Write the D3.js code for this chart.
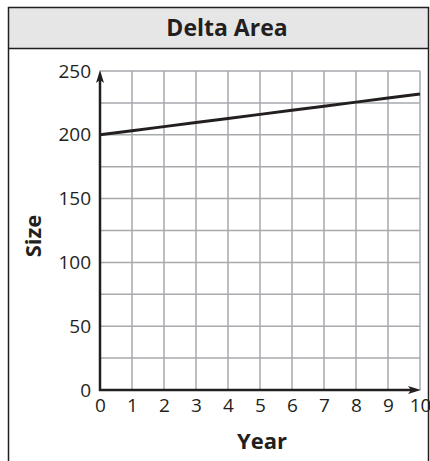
<!DOCTYPE html>
<html><head><meta charset="utf-8">
<script src="https://cdn.jsdelivr.net/npm/d3@7"></script>
<style>body{margin:0;background:#fff}svg{display:block;font-family:"Open Sans",sans-serif}</style>
</head><body>
<script>
const title = "Delta Area";
const xLabel = "Year";
const yLabel = "Size";
const years = [0,1,2,3,4,5,6,7,8,9,10];
const sizes = [200,203.2,206.4,209.6,212.8,216,219.2,222.4,225.6,228.8,232];
const xTicks = [0,1,2,3,4,5,6,7,8,9,10];
const yTicks = [0,50,100,150,200,250];
const yGrid = [25,50,75,100,125,150,175,200,225,250];

const W=430,H=461;
const svg=d3.select("body").append("svg").attr("width",W).attr("height",H);

// frame
svg.append("rect").attr("x",8.5).attr("y",7.5).attr("width",420).attr("height",41).attr("fill","#e6e6e7").attr("stroke","none");
svg.append("path").attr("d","M8.5,470V7.5H428.5V470").attr("fill","none").attr("stroke","#231f20").attr("stroke-width",1.5);
svg.append("line").attr("x1",8.5).attr("x2",428.5).attr("y1",48.5).attr("y2",48.5).attr("stroke","#231f20").attr("stroke-width",1.5);
svg.append("text").attr("x",227).attr("y",36).attr("text-anchor","middle").attr("font-size",23).attr("font-weight","bold").attr("fill","#231f20").text(title);

const x=d3.scaleLinear().domain([0,10]).range([100,420]);
const y=d3.scaleLinear().domain([0,250]).range([390,71]);

const g=svg.append("g");
// grid
g.selectAll(".vg").data(xTicks.slice(1)).join("line")
 .attr("x1",d=>x(d)).attr("x2",d=>x(d)).attr("y1",y(0)).attr("y2",y(250))
 .attr("stroke","#a7a9ac").attr("stroke-width",1.5);
g.selectAll(".hg").data(yGrid).join("line")
 .attr("x1",x(0)).attr("x2",x(10)).attr("y1",d=>y(d)).attr("y2",d=>y(d))
 .attr("stroke","#a7a9ac").attr("stroke-width",1.5);

// axes via d3 axis (labels only)
const tickFont = "Open Sans";
const xa=svg.append("g").attr("transform",`translate(0,${y(0)})`)
 .call(d3.axisBottom(x).tickValues(xTicks).tickSize(0).tickPadding(9).tickFormat(d3.format("d")));
xa.select(".domain").remove();
xa.selectAll("text").attr("font-size",19).attr("fill","#231f20").attr("font-family",tickFont);
const ya=svg.append("g").attr("transform",`translate(${x(0)},0)`)
 .call(d3.axisLeft(y).tickValues(yTicks).tickSize(0).tickPadding(9).tickFormat(d3.format("d")));
ya.select(".domain").remove();
ya.selectAll("text").attr("font-size",19).attr("fill","#231f20").attr("font-family",tickFont);

// axis lines with arrows
svg.append("line").attr("x1",x(0)).attr("x2",x(0)).attr("y1",y(0)+1).attr("y2",y(250)+6).attr("stroke","#231f20").attr("stroke-width",2.5);
svg.append("path").attr("d",`M${x(0)},${y(250)-1}l-4,13l4,-3l4,3z`).attr("fill","#231f20");
svg.append("line").attr("x1",x(0)-1).attr("x2",x(10)-6).attr("y1",y(0)).attr("y2",y(0)).attr("stroke","#231f20").attr("stroke-width",2.5);
svg.append("path").attr("d",`M${x(10)+1},${y(0)}l-13,-4l3,4l-3,4z`).attr("fill","#231f20");

// data line
const line=d3.line().x((d,i)=>x(years[i])).y(d=>y(d));
svg.append("path").datum(sizes).attr("d",line).attr("fill","none").attr("stroke","#231f20").attr("stroke-width",3);

// axis titles
svg.append("text").attr("x",262).attr("y",449).attr("text-anchor","middle").attr("font-size",22).attr("font-weight","bold").attr("fill","#231f20").text(xLabel);
svg.append("text").attr("transform","translate(41,236) rotate(-90)").attr("text-anchor","middle").attr("font-size",22).attr("font-weight","bold").attr("fill","#231f20").text(yLabel);
</script>
</body></html>
